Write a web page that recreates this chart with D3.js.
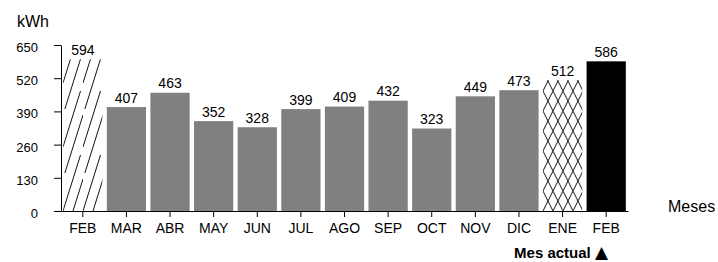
<!DOCTYPE html>
<html><head><meta charset="utf-8">
<script src="https://cdn.jsdelivr.net/npm/d3@7"></script>
<style>
body{margin:0;background:#fff}
svg text{font-family:"Liberation Sans",Arial,Helvetica,sans-serif;fill:#000}
</style>
</head><body>
<svg id="chart" width="718" height="262"></svg>
<script>
// ---- data ----
const categories = ["FEB","MAR","ABR","MAY","JUN","JUL","AGO","SEP","OCT","NOV","DIC","ENE","FEB"];
const values = [594,407,463,352,328,399,409,432,323,449,473,512,586];
const barKinds = ["prev","hist","hist","hist","hist","hist","hist","hist","hist","hist","hist","est","current"];
const yTicks = [0,130,260,390,520,650];
const yUnit = "kWh";
const xTitle = "Meses";
const noteText = "Mes actual ";
const noteMark = "\u25B2";

// ---- layout ----
const svg = d3.select("#chart");
const x = d3.scaleBand().domain(d3.range(categories.length)).range([61,628]).paddingInner(0.1).paddingOuter(0.05);
const y = d3.scaleLinear().domain([0,650]).range([211,45]);

const defs = svg.append("defs");
const hatch = defs.append("pattern").attr("id","hatch").attr("patternUnits","userSpaceOnUse")
  .attr("width",20).attr("height",64).attr("x",3).attr("y",211);
hatch.append("path")
  .attr("d","M0,64L17.5,8M10,64L20,32M1.9,26L10,0")
  .attr("stroke","#111").attr("stroke-width",1).attr("fill","none");

const cross = defs.append("pattern").attr("id","cross").attr("patternUnits","userSpaceOnUse")
  .attr("width",10).attr("height",20).attr("x",x(11)).attr("y",211);
cross.append("path").attr("d","M0,0L10,20M10,0L0,20")
  .attr("stroke","#111").attr("stroke-width",1).attr("fill","none");

const fillOf = k => k==="prev" ? "url(#hatch)" : k==="est" ? "url(#cross)" : k==="current" ? "#000" : "#808080";

svg.append("g").selectAll("rect").data(values).join("rect")
  .attr("x",(d,i)=>x(i)).attr("width",x.bandwidth())
  .attr("y",d=>y(d)).attr("height",d=>y(0)-y(d))
  .attr("fill",(d,i)=>fillOf(barKinds[i]));

svg.append("g").selectAll("text").data(values).join("text")
  .attr("x",(d,i)=>x(i)+x.bandwidth()/2).attr("y",d=>y(d)-4.5)
  .attr("text-anchor","middle").style("font-size","14px").text(d=>d);

// y axis
const yAxis = svg.append("g").attr("transform","translate(61,0)")
  .call(d3.axisLeft(y).tickValues(yTicks).tickSize(7).tickSizeOuter(0).tickPadding(16));
yAxis.selectAll("text").style("font-size","13px").attr("dy","0.5em");

// x axis
const xAxis = svg.append("g").attr("transform","translate(0,211)")
  .call(d3.axisBottom(x).tickSize(6).tickSizeOuter(0).tickPadding(6).tickFormat(i=>categories[i]));
xAxis.selectAll("text").style("font-size","14px");
svg.selectAll(".domain, .tick line").attr("stroke","#000");

svg.append("text").attr("x",17).attr("y",26.5).style("font-size","16px").text(yUnit);
svg.append("text").attr("x",668).attr("y",212).style("font-size","16px").text(xTitle);
const note = svg.append("text").attr("x",608).attr("y",258).attr("text-anchor","end")
  .style("font-size","15px").style("font-weight","bold");
note.append("tspan").text(noteText);
note.append("tspan").style("font-family","'DejaVu Sans',sans-serif").style("font-size","17px").text(noteMark);
</script>
</body></html>
